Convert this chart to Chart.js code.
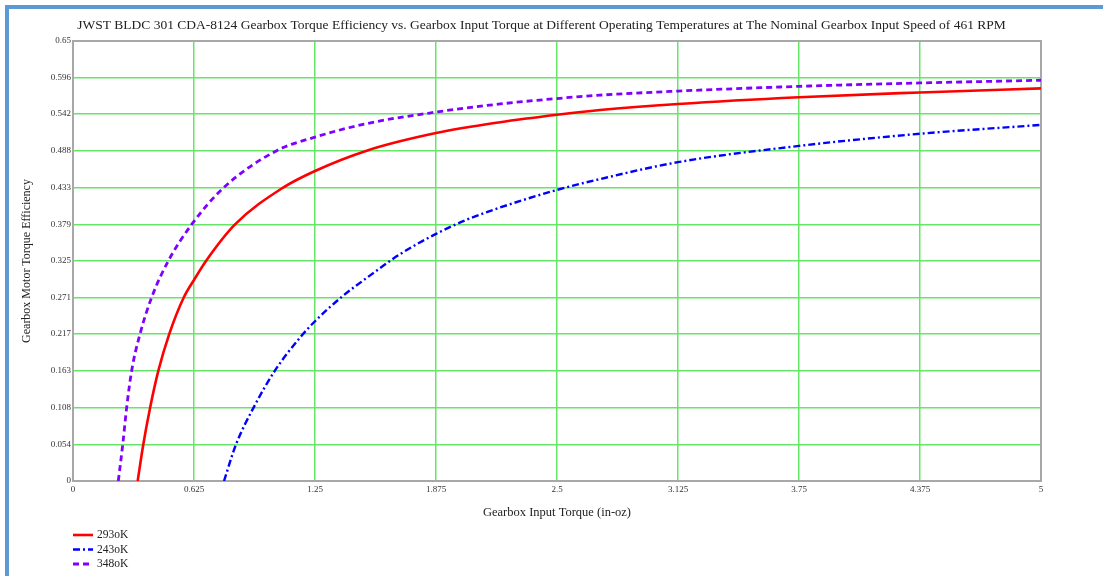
<!DOCTYPE html>
<html>
<head>
<meta charset="utf-8">
<script src="https://cdn.jsdelivr.net/npm/chart.js@4.4.1/dist/chart.umd.min.js"></script>
<style>
  html, body { margin: 0; padding: 0; background: #ffffff; }
  #page { position: relative; width: 1103px; height: 576px; overflow: hidden; }
  .frame-top { position: absolute; left: 5px; top: 5px; width: 1098px; height: 4px; background: #5b9bd5; }
  .frame-left { position: absolute; left: 5px; top: 5px; width: 4px; height: 571px; background: #5b9bd5; }
  #chart { position: absolute; left: 0; top: 0; }
</style>
</head>
<body>
<div id="page">
  <div class="frame-top"></div>
  <div class="frame-left"></div>
  <canvas id="chart" width="1103" height="576"></canvas>
</div>
<script>
// Gearbox input torque (in-oz) and torque efficiency for each temperature
const torque293 = [0.334, 0.363, 0.398, 0.441, 0.497, 0.572, 0.625, 0.687, 0.837, 1.083, 1.25, 1.517, 1.875, 2.206, 2.5, 2.722, 3.125, 3.75, 4.375, 5];
const eff293    = [0, 0.054, 0.108, 0.163, 0.217, 0.271, 0.297, 0.325, 0.379, 0.433, 0.458, 0.488, 0.514, 0.530, 0.541, 0.548, 0.557, 0.567, 0.574, 0.580];

const torque243 = [0.780, 0.842, 0.932, 1.043, 1.173, 1.25, 1.388, 1.517, 1.689, 1.875, 2.033, 2.206, 2.5, 2.722, 3.125, 3.75, 4.375, 5];
const eff243    = [0, 0.054, 0.108, 0.163, 0.212, 0.236, 0.272, 0.300, 0.335, 0.365, 0.386, 0.404, 0.430, 0.446, 0.471, 0.495, 0.513, 0.526];

const torque348 = [0.234, 0.257, 0.277, 0.303, 0.346, 0.406, 0.492, 0.613, 0.777, 1.052, 1.25, 1.517, 1.875, 2.206, 2.5, 2.722, 3.125, 3.75, 4.375, 5];
const eff348    = [0, 0.054, 0.108, 0.163, 0.217, 0.271, 0.325, 0.379, 0.433, 0.488, 0.508, 0.528, 0.545, 0.557, 0.565, 0.570, 0.576, 0.583, 0.588, 0.592];

const seriesLabels = ['293oK', '243oK', '348oK'];

const xTickLabels = ['0', '0.625', '1.25', '1.875', '2.5', '3.125', '3.75', '4.375', '5'];
const yTickLabels = ['0', '0.054', '0.108', '0.163', '0.217', '0.271', '0.325', '0.379', '0.433', '0.488', '0.542', '0.596', '0.65'];

const chartTitle = 'JWST BLDC 301 CDA-8124 Gearbox Torque Efficiency vs. Gearbox Input Torque at Different Operating Temperatures at The Nominal Gearbox Input Speed of 461 RPM';
const xTitle = 'Gearbox Input Torque (in-oz)';
const yTitle = 'Gearbox Motor Torque Efficiency';

const SERIF = "'Liberation Serif', 'DejaVu Serif', serif";

function pairs(xs, ys) {
  return xs.map((x, i) => ({ x: x, y: ys[i] }));
}

// Title drawn centred over the page
const titlePlugin = {
  id: 'pageTitle',
  afterDraw(chart) {
    const ctx = chart.ctx;
    ctx.save();
    ctx.font = '13.5px ' + SERIF;
    ctx.fillStyle = '#222222';
    ctx.textAlign = 'center';
    ctx.textBaseline = 'middle';
    ctx.fillText(chartTitle, 541.5, 25);
    ctx.restore();
  }
};

// Grey box around the plotting area
const framePlugin = {
  id: 'plotFrame',
  beforeDatasetsDraw(chart) {
    const a = chart.chartArea;
    const ctx = chart.ctx;
    ctx.save();
    ctx.strokeStyle = '#a8a8a8';
    ctx.lineWidth = 2;
    ctx.strokeRect(a.left, a.top, a.right - a.left, a.bottom - a.top);
    ctx.restore();
  }
};

// Vertical legend stacked under the x axis, on the left
const stackedLegend = {
  id: 'stackedLegend',
  afterDraw(chart) {
    const ctx = chart.ctx;
    const x0 = 73, sampleW = 20, rowY = [535, 549.5, 564];
    ctx.save();
    chart.data.datasets.forEach((ds, i) => {
      const y = rowY[i];
      ctx.beginPath();
      ctx.strokeStyle = ds.borderColor;
      ctx.lineWidth = ds.borderWidth;
      ctx.setLineDash(ds.borderDash || []);
      ctx.moveTo(x0, y);
      ctx.lineTo(x0 + sampleW, y);
      ctx.stroke();
      ctx.setLineDash([]);
      ctx.font = '11.5px ' + SERIF;
      ctx.fillStyle = '#222222';
      ctx.textAlign = 'left';
      ctx.textBaseline = 'middle';
      ctx.fillText(ds.label, x0 + sampleW + 4, y);
    });
    ctx.restore();
  }
};

const gridGreen = '#66e666';
const axisGrey = '#a8a8a8';

new Chart(document.getElementById('chart'), {
  type: 'line',
  data: {
    datasets: [
      {
        label: seriesLabels[0],
        data: pairs(torque293, eff293),
        borderColor: '#ff0000',
        borderWidth: 2.6,
        pointRadius: 0,
        cubicInterpolationMode: 'monotone',
        fill: false
      },
      {
        label: seriesLabels[1],
        data: pairs(torque243, eff243),
        borderColor: '#0000ff',
        borderWidth: 2.4,
        borderDash: [7, 3, 2, 3],
        pointRadius: 0,
        cubicInterpolationMode: 'monotone',
        fill: false
      },
      {
        label: seriesLabels[2],
        data: pairs(torque348, eff348),
        borderColor: '#8000ff',
        borderWidth: 2.8,
        borderDash: [6, 4],
        pointRadius: 0,
        cubicInterpolationMode: 'monotone',
        fill: false
      }
    ]
  },
  options: {
    responsive: false,
    animation: false,
    layout: { padding: { left: 10, right: 62, top: 41, bottom: 50 } },
    plugins: {
      legend: { display: false },
      title: { display: false },
      tooltip: { enabled: false }
    },
    scales: {
      x: {
        type: 'linear',
        min: 0,
        max: 5,
        afterBuildTicks(scale) {
          scale.ticks = xTickLabels.map(t => ({ value: parseFloat(t) }));
        },
        afterFit(scale) { scale.height = 45; },
        ticks: {
          autoSkip: false,
          maxRotation: 0,
          padding: 3,
          color: '#333333',
          font: { family: SERIF, size: 9 },
          callback: (v, i) => xTickLabels[i]
        },
        grid: { color: gridGreen, lineWidth: 1.5, drawTicks: false },
        border: { color: axisGrey, width: 2 },
        title: {
          display: true,
          text: xTitle,
          color: '#222222',
          font: { family: SERIF, size: 12.5 },
          padding: { top: 0, bottom: 6 }
        }
      },
      y: {
        type: 'linear',
        min: 0,
        max: 0.65,
        afterBuildTicks(scale) {
          scale.ticks = yTickLabels.map(t => ({ value: parseFloat(t) }));
        },
        afterFit(scale) { scale.width = 63; },
        ticks: {
          autoSkip: false,
          padding: 2,
          color: '#333333',
          font: { family: SERIF, size: 9 },
          callback: (v, i) => yTickLabels[i]
        },
        grid: { color: gridGreen, lineWidth: 1.5, drawTicks: false },
        border: { color: axisGrey, width: 2 },
        title: {
          display: true,
          text: yTitle,
          color: '#222222',
          font: { family: SERIF, size: 12 },
          padding: { top: 10, bottom: 0 }
        }
      }
    }
  },
  plugins: [framePlugin, titlePlugin, stackedLegend]
});
</script>
</body>
</html>
